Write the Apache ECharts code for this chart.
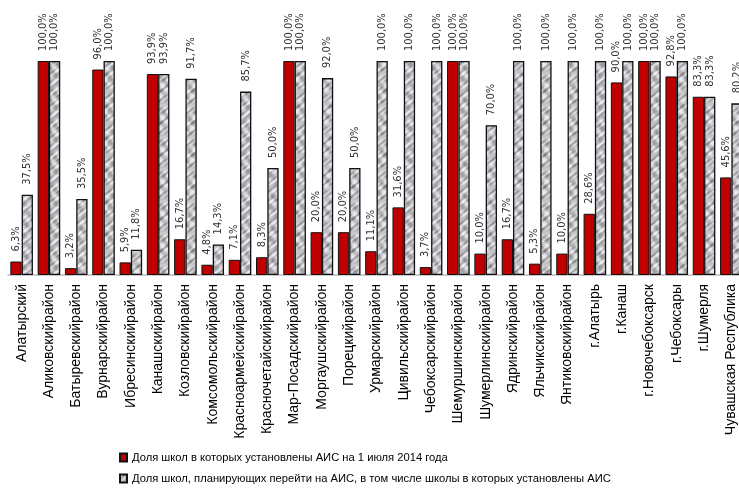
<!DOCTYPE html>
<html><head><meta charset="utf-8">
<script src="https://cdn.jsdelivr.net/npm/echarts@6/dist/echarts.min.js"></script>
<style>html,body{margin:0;padding:0;background:#fff}#c{width:739px;height:491px}</style>
</head><body><div id="c"></div>
<script>
var categories = ["Алатырский","Аликовскийрайон","Батыревскийрайон","Вурнарскийрайон","Ибресинскийрайон","Канашскийрайон","Козловскийрайон","Комсомольскийрайон","Красноармейскийрайон","Красночетайскийрайон","Мар-Посадскийрайон","Моргаушскийрайон","Порецкийрайон","Урмарскийрайон","Цивильскийрайон","Чебоксарскийрайон","Шемуршинскийрайон","Шумерлинскийрайон","Ядринскийрайон","Яльчикскийрайон","Янтиковскийрайон","г.Алатырь","г.Канаш","г.Новочебоксарск","г.Чебоксары","г.Шумерля","Чувашская Республика"];
var installed = [6.3,100,3.2,96.0,5.9,93.9,16.7,4.8,7.1,8.3,100,20.0,20.0,11.1,31.6,3.7,100,10.0,16.7,5.3,10.0,28.6,90.0,100,92.8,83.3,45.6];
var planned = [37.5,100,35.5,100,11.8,93.9,91.7,14.3,85.7,50.0,100,92.0,50.0,100,100,100,100,70.0,100,100,100,100,100,100,100,83.3,80.2];
var seriesNames = ["Доля школ в которых установлены АИС на 1 июля 2014 года","Доля школ, планирующих перейти на АИС, в том числе школы в которых установлены АИС"];

// mottled gray stone-like texture (deterministic)
var N = 32;
var pc = document.createElement('canvas'); pc.width = N; pc.height = N;
var g = pc.getContext('2d');
var img = g.createImageData(N, N);
var T = 2*Math.PI/N;
for (var y=0;y<N;y++){ for (var x=0;x<N;x++){
  var v = Math.sin(x*T*2+1.3)*Math.cos(y*T*3+0.4)
        + 0.8*Math.sin((x+y)*T*4+2.1)
        + 0.6*Math.cos((x*3-y*2)*T+0.7)
        + 0.5*Math.sin((x*5+y*7)*T);
  var c = Math.max(120, Math.min(235, Math.round(192 + v*28)));
  var k = (y*N+x)*4;
  img.data[k]=c; img.data[k+1]=c; img.data[k+2]=Math.min(255,c+4); img.data[k+3]=255;
}}
g.putImageData(img,0,0);
var pattern = {image: pc, repeat: 'repeat'};

function fmt(p){ return p.value.toFixed(1).replace('.', ',') + '%'; }
var lbl = {show:true, position:'top', rotate:90, align:'left', verticalAlign:'middle', distance:10,
  formatter: fmt, fontFamily:'DejaVu Sans Condensed', fontSize:11, color:'#333'};

var chart = echarts.init(document.getElementById('c'));
chart.setOption({
  animation:false,
  grid:{left:8, right:-6, top:61, bottom:216, outerBoundsMode:'none', containLabel:false},
  xAxis:{type:'category', data:categories,
    axisLine:{lineStyle:{color:'#bbb', width:1.5}}, axisTick:{show:false},
    axisLabel:{rotate:90, interval:0, margin:9, fontFamily:'Liberation Sans', fontSize:14, color:'#000'}},
  yAxis:{type:'value', min:0, max:100, show:false, splitLine:{show:false}},
  legend:{orient:'vertical', left:119, top:452, itemGap:10, itemWidth:7, itemHeight:8, padding:0,
    textStyle:{fontFamily:'Liberation Sans', fontSize:11.2, color:'#000'},
    data:[{name:seriesNames[0], icon:'rect'},{name:seriesNames[1], icon:'rect'}]},
  series:[
    {name:seriesNames[0], type:'bar', data:installed, barWidth:11.3, barGap:'0%',
     itemStyle:{color:'#C00000', borderColor:'#111', borderWidth:1}, label:lbl},
    {name:seriesNames[1], type:'bar', data:planned, barWidth:11.3, barGap:'0%',
     itemStyle:{color:pattern, borderColor:'#111', borderWidth:1.3}, label:lbl}
  ]
});
</script></body></html>
